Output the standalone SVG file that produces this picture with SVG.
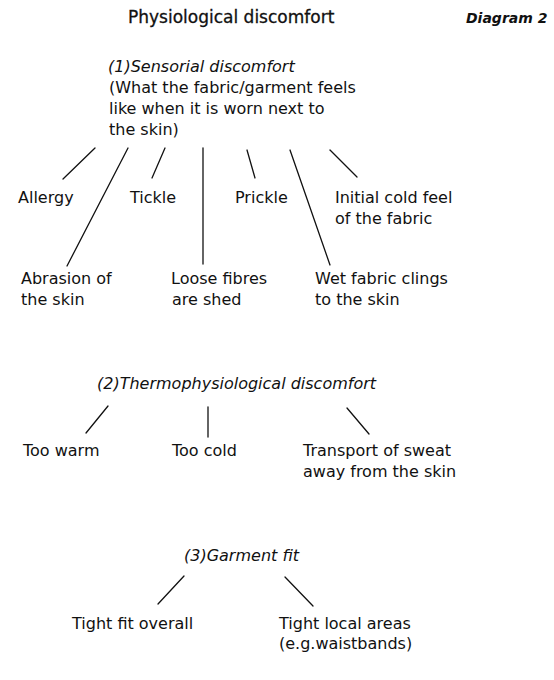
<svg xmlns="http://www.w3.org/2000/svg" width="554" height="680" viewBox="0 0 554 680">
<style>
text{font-family:"DejaVu Sans","Liberation Sans",sans-serif;font-size:16px;fill:#111}
.title{font-size:17px;stroke:#111;stroke-width:0.3}
.diag{font-size:14px;font-weight:bold;font-style:italic}
.head{font-style:italic}
.conn line{stroke:#111;stroke-width:1.3;stroke-linecap:round}
</style>
<rect width="554" height="680" fill="#ffffff"/>
<g id="title"><text class="title" x="128" y="23">Physiological discomfort</text></g>
<g id="diagram-label"><text class="diag" x="466" y="23">Diagram 2</text></g>

<g id="sensorial">
<text class="head" x="108" y="72">(1)Sensorial discomfort</text>
<text x="109" y="93">(What the fabric/garment feels</text>
<text x="109" y="114">like when it is worn next to</text>
<text x="109" y="135">the skin)</text>
</g>
<g id="allergy"><text x="18" y="203">Allergy</text></g>
<g id="tickle"><text x="130" y="203">Tickle</text></g>
<g id="prickle"><text x="235" y="203">Prickle</text></g>
<g id="initial-cold"><text x="335" y="203">Initial cold feel</text><text x="335" y="224">of the fabric</text></g>
<g id="abrasion"><text x="21" y="284">Abrasion of</text><text x="21" y="305">the skin</text></g>
<g id="loose-fibres"><text x="171" y="284">Loose fibres</text><text x="172" y="305">are shed</text></g>
<g id="wet-fabric"><text x="315" y="284">Wet fabric clings</text><text x="315" y="305">to the skin</text></g>

<g id="thermo"><text class="head" x="97" y="389">(2)Thermophysiological discomfort</text></g>
<g id="too-warm"><text x="23" y="456">Too warm</text></g>
<g id="too-cold"><text x="172" y="456">Too cold</text></g>
<g id="transport"><text x="303" y="456">Transport of sweat</text><text x="303" y="477">away from the skin</text></g>

<g id="fit"><text class="head" x="184" y="561">(3)Garment fit</text></g>
<g id="tight-overall"><text x="72" y="629">Tight fit overall</text></g>
<g id="tight-local"><text x="279" y="629">Tight local areas</text><text x="279" y="649">(e.g.waistbands)</text></g>

<g id="connectors" class="conn">
<line x1="95" y1="148" x2="63" y2="179"/>
<line x1="128" y1="148" x2="67" y2="266"/>
<line x1="165" y1="148" x2="152" y2="178"/>
<line x1="203" y1="148" x2="203" y2="264"/>
<line x1="247" y1="150" x2="255" y2="178"/>
<line x1="290" y1="150" x2="330" y2="265"/>
<line x1="330" y1="150" x2="357" y2="177"/>
<line x1="108" y1="406" x2="86" y2="433"/>
<line x1="208" y1="407" x2="208" y2="437"/>
<line x1="347" y1="408" x2="369" y2="434"/>
<line x1="184" y1="576" x2="158" y2="604"/>
<line x1="285" y1="577" x2="313" y2="606"/>
</g>
</svg>
